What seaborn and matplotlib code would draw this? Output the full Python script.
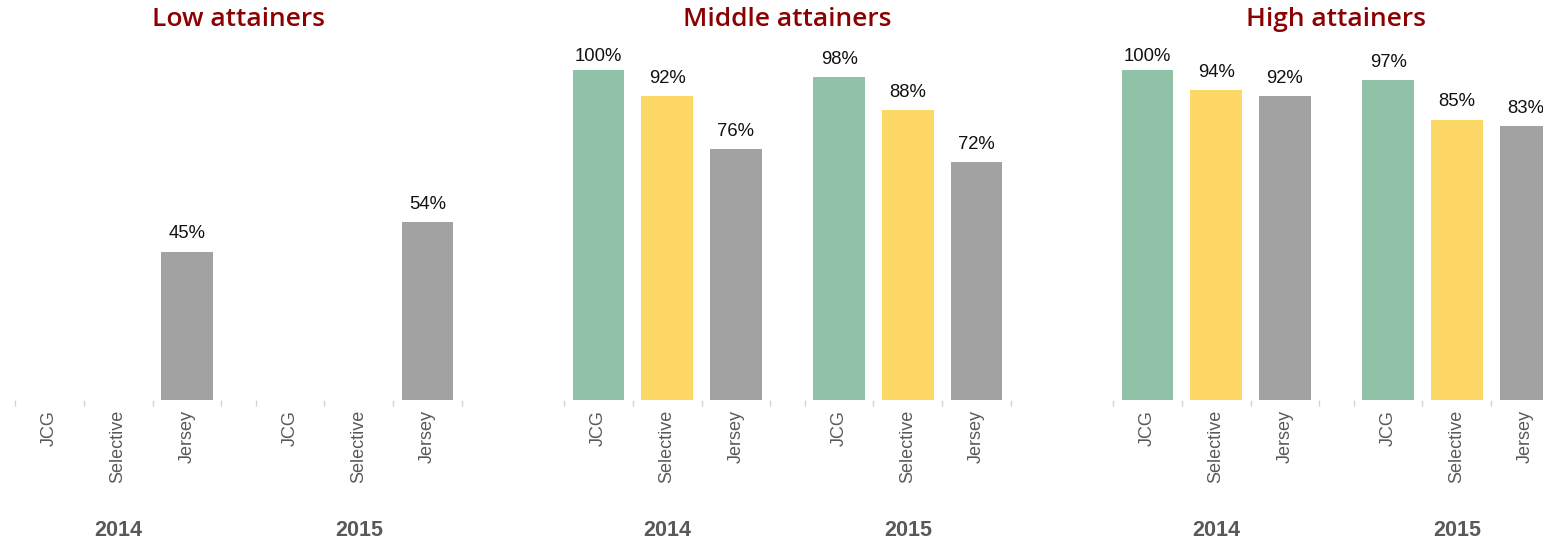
import numpy as np
import pandas as pd
import seaborn as sns
import matplotlib
matplotlib.use("Agg")
import matplotlib.pyplot as plt
from matplotlib.transforms import blended_transform_factory

# Share of pupils achieving the benchmark, by prior attainment band
panels = ["Low attainers", "Middle attainers", "High attainers"]
years = ["2014", "2015"]
schools = ["JCG", "Selective", "Jersey"]

low_2014 = [np.nan, np.nan, 45]
low_2015 = [np.nan, np.nan, 54]
middle_2014 = [100, 92, 76]
middle_2015 = [98, 88, 72]
high_2014 = [100, 94, 92]
high_2015 = [97, 85, 83]

panel_values = {
    "Low attainers": (low_2014, low_2015),
    "Middle attainers": (middle_2014, middle_2015),
    "High attainers": (high_2014, high_2015),
}

palette = {"JCG": "#8FC2A7", "Selective": "#FDD866", "Jersey": "#A2A2A2"}

TITLE_RED = "#8B0000"
LABEL_GREY = "#595959"
TICK_GREY = "#D4D4D4"

sns.set_theme(style="white")
plt.rcParams["font.family"] = ["Liberation Sans", "DejaVu Sans"]

W, H = 1543, 543
fig = plt.figure(figsize=(W / 100, H / 100), dpi=100)
fig.patch.set_facecolor("white")

group_step = 3.5  # three slots plus a half-slot gap between years
panel_left_px = [15, 564, 1113]
panel_width_px = 447
base_px = 143       # baseline distance from bottom of figure
plot_height_px = 363
ymax = 110
px_per_unit = plot_height_px / ymax

for k, title in enumerate(panels):
    rows = []
    for g, (year, vals) in enumerate(zip(years, panel_values[title])):
        for i, (school, v) in enumerate(zip(schools, vals)):
            rows.append({"pos": i + g * group_step, "school": school,
                         "year": year, "value": v})
    df = pd.DataFrame(rows)

    ax = fig.add_axes([panel_left_px[k] / W, base_px / H,
                       panel_width_px / W, plot_height_px / H])
    ax.set_facecolor("none")

    sns.barplot(data=df, x="pos", y="value", hue="school", hue_order=schools,
                palette=palette, native_scale=True, width=0.75, saturation=1,
                errorbar=None, legend=False, linewidth=0, ax=ax)

    # value labels above each bar, squeezed slightly near the top of the frame
    for cont in ax.containers:
        for bar in cont:
            h = bar.get_height()
            if not np.isfinite(h):
                continue
            room_px = (100 - h) * px_per_unit + 5
            off_px = min(9, room_px)
            ax.annotate(f"{h:.0f}%", (bar.get_x() + bar.get_width() / 2, h),
                        xytext=(0, off_px * 72 / 100), textcoords="offset points",
                        ha="center", va="bottom", fontsize=13.3, color="#111111")

    ax.set_xlim(-0.5, 2 * group_step - 1)
    ax.set_ylim(0, ymax)

    # slot boundaries as short light ticks, school names centred in each slot
    bounds = [-0.5, 0.5, 1.5, 2.5]
    bounds = bounds + [b + group_step for b in bounds]
    ax.set_xticks(bounds)
    ax.set_xticklabels([""] * len(bounds))
    ax.tick_params(axis="x", which="major", length=4.5, width=1,
                   color=TICK_GREY, direction="out", bottom=True)
    centers = sorted(df["pos"].tolist())
    ax.set_xticks(centers, minor=True)
    ax.set_xticklabels(schools * 2, minor=True, rotation=90,
                       fontsize=13, color=LABEL_GREY)
    ax.tick_params(axis="x", which="minor", length=0, pad=7)

    ax.set_yticks([])
    ax.set_xlabel("")
    ax.set_ylabel("")
    for sp in ax.spines.values():
        sp.set_visible(False)

    tr = blended_transform_factory(ax.transData, fig.transFigure)
    for g, year in enumerate(years):
        ax.text(1 + g * group_step, (H - 530) / H, year, transform=tr,
                ha="center", va="center", fontsize=15.5, fontweight="bold",
                color=LABEL_GREY)

    ttr = blended_transform_factory(ax.transAxes, fig.transFigure)
    ax.text(0.5, (H - 20) / H, title, transform=ttr, ha="center",
            va="center", fontsize=19, fontweight="semibold", color=TITLE_RED,
            family=["Open Sans", "DejaVu Sans"])

fig.savefig("out.png", dpi=100, facecolor="white")
